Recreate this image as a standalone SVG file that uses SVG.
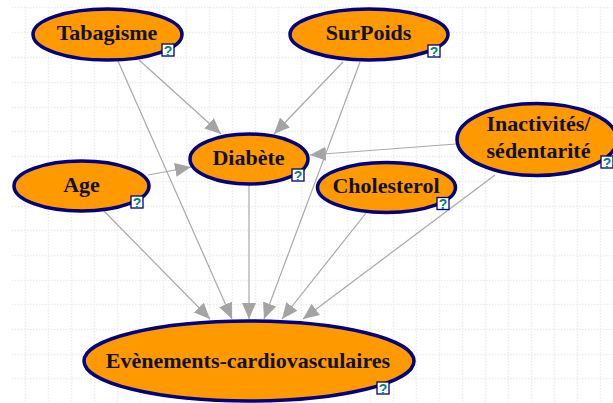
<svg xmlns="http://www.w3.org/2000/svg" width="613" height="403" viewBox="0 0 613 403">
<style>
.g{stroke:#ececec;stroke-width:1.5;stroke-dasharray:1.5 1.5;fill:none}
.c{stroke:#a8a8a8;stroke-width:1.200;fill:none;marker-end:url(#a)}
.n{fill:#ff9900;stroke:#000080;stroke-width:3.500}
.t{font-family:"Liberation Serif",serif;font-weight:bold;font-size:22px;fill:#111;text-anchor:middle}
.b{fill:#fff;stroke:#000080;stroke-width:1.300}
.q{font-family:"Liberation Sans",sans-serif;font-weight:bold;font-size:14px;fill:#008080;text-anchor:middle}
</style>
<defs>
<marker id="a" markerUnits="userSpaceOnUse" markerWidth="17" markerHeight="16" refX="16" refY="8" orient="auto"><path d="M0 1L16 8L0 15Z" fill="#a4a4a4"/></marker>
<g id="h"><rect class="b" x="0.5" y="0.5" width="12" height="12"/><text class="q" x="6.500" y="12">?</text></g>
</defs>
<rect width="613" height="403" fill="#fff"/>
<g id="grid">
<path class="g" d="M12 7.500H613M12 32.500H613M12 57.500H613M12 82.500H613M12 107.500H613M12 131.500H613M12 156.500H613M12 181.500H613M12 206.500H613M12 230.500H613M12 255.500H613M12 280.500H613M12 304.500H613M12 329.500H613M12 354.500H613M12 378.500H613"/>
<path class="g" d="M25.500 7V403M48.500 7V403M71.500 7V403M94.500 7V403M117.500 7V403M140.500 7V403M163.500 7V403M186.500 7V403M209.500 7V403M232.500 7V403M255.500 7V403M278.500 7V403M301.500 7V403M324.500 7V403M347.500 7V403M370.500 7V403M393.500 7V403M416.500 7V403M439.500 7V403M462.500 7V403M485.500 7V403M508.500 7V403M531.500 7V403M554.500 7V403M577.500 7V403M600.500 7V403"/>
</g>
<g id="connectors">
<line class="c" x1="139" y1="60" x2="221" y2="134"/>
<line class="c" x1="343" y1="62" x2="274" y2="134"/>
<line class="c" x1="148" y1="175" x2="191" y2="167"/>
<line class="c" x1="456" y1="144" x2="310" y2="155"/>
<line class="c" x1="118" y1="61" x2="232" y2="319"/>
<line class="c" x1="360" y1="62" x2="264" y2="319"/>
<line class="c" x1="249" y1="185" x2="249" y2="319"/>
<line class="c" x1="103" y1="210" x2="210" y2="319"/>
<line class="c" x1="366" y1="213" x2="282" y2="319"/>
<line class="c" x1="495" y1="175" x2="303" y2="319"/>
</g>
<g id="tabagisme"><ellipse class="n" cx="107.500" cy="34.500" rx="74.500" ry="25.500"/><text class="t" x="107" y="40">Tabagisme</text><use href="#h" x="161.500" y="43.500"/></g>
<g id="surpoids"><ellipse class="n" cx="369" cy="34.500" rx="79" ry="25.500"/><text class="t" x="368.500" y="40">SurPoids</text><use href="#h" x="427.500" y="44.500"/></g>
<g id="diabete"><ellipse class="n" cx="249" cy="159" rx="59" ry="25"/><text class="t" x="248.500" y="165">Diabète</text><use href="#h" x="291.500" y="168.500"/></g>
<g id="age"><ellipse class="n" cx="81.500" cy="186" rx="67.500" ry="25"/><text class="t" x="81.500" y="192">Age</text><use href="#h" x="130.500" y="195.500"/></g>
<g id="cholesterol"><ellipse class="n" cx="386.500" cy="187.500" rx="69" ry="25"/><text class="t" x="386" y="193">Cholesterol</text><use href="#h" x="436.500" y="197"/></g>
<g id="inactivites"><ellipse class="n" cx="537" cy="139.500" rx="80" ry="36"/><text class="t" x="538.500" y="131">Inactivités/</text><text class="t" x="538.500" y="158">sédentarité</text><use href="#h" x="600.500" y="155.500"/></g>
<g id="evenements"><ellipse class="n" cx="249" cy="361" rx="165" ry="40"/><text class="t" x="248" y="368">Evènements-cardiovasculaires</text><use href="#h" x="376.500" y="381.500"/></g>
</svg>
